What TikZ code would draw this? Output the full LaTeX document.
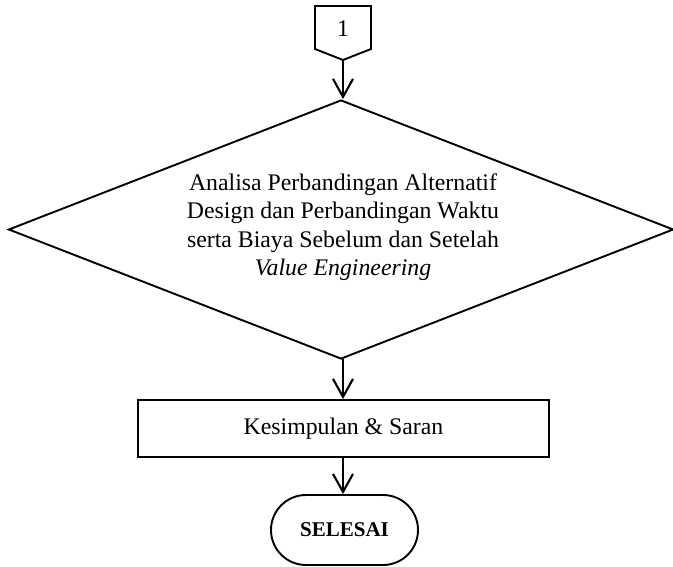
\documentclass[tikz,border=0pt]{standalone}
\usepackage{fontspec}
\setmainfont{Liberation Serif}
\usetikzlibrary{shapes.geometric,shapes.misc,arrows.meta}
\begin{document}
\begin{tikzpicture}[x=1pt,y=-1pt,line width=1.9pt,
  flow/.style={line width=2.1pt,-{Straight Barb[length=18pt,width=20pt,line width=2.1pt]}},
  txt/.style={font=\fontsize{23.8}{28.5}\selectfont},
  box/.style={draw,rectangle,inner sep=0pt,txt},
  term/.style={draw,rounded rectangle,inner sep=0pt,font=\fontsize{21}{25}\selectfont\bfseries}]
\useasboundingbox (0,0) rectangle (673,567);
% off-page connector
\draw (315,6) -- (371,6) -- (371,49) -- (343,60) -- (315,49) -- cycle;
\node[txt,inner sep=0pt] (c1) at (343,28.5) {1};
\coordinate (c1b) at (343,60);
% decision
\node[draw,diamond,inner sep=0pt,minimum width=665pt,minimum height=259pt] (d) at (341,229.5) {};
\node[txt,align=center,inner sep=0pt] (dt) at (343,227) {Analisa Perbandingan Alternatif\\Design dan Perbandingan Waktu\\serta Biaya Sebelum dan Setelah\\\textit{Value Engineering}};
% process
\node[box,minimum width=411pt,minimum height=57pt] (k) at (343.5,428.5) {Kesimpulan \& Saran};
% terminator
\node[term,minimum width=147pt,minimum height=70pt] (s) at (344.5,530) {SELESAI};
% connectors
\draw[flow] (c1b) -- (c1b |- d.north);
\coordinate (dbot) at (343,359);
\draw[flow] (dbot) -- (dbot |- k.north);
\draw[flow] (dbot |- k.south) -- (dbot |- s.north);
\end{tikzpicture}
\end{document}
